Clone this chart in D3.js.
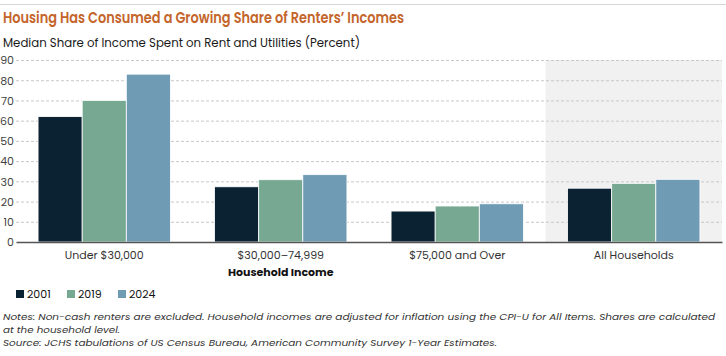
<!DOCTYPE html>
<html><head><meta charset="utf-8">
<script src="https://cdn.jsdelivr.net/npm/d3@7"></script>
<style>body{margin:0;background:#fff}svg{display:block}</style>
</head><body>
<svg id="c" width="726" height="356"></svg>
<script>
const categories = ["Under $30,000", "$30,000–74,999", "$75,000 and Over", "All Households"];
const seriesNames = ["2001", "2019", "2024"];
const values2001 = [62, 27.3, 15.3, 26.6];
const values2019 = [70, 30.8, 17.8, 29.0];
const values2024 = [83, 33.3, 18.9, 31.0];
const yTicks = [0, 10, 20, 30, 40, 50, 60, 70, 80, 90];
const colors = ["#0b2233", "#76a892", "#6f9bb5"];

const title = "Housing Has Consumed a Growing Share of Renters’ Incomes";
const subtitle = "Median Share of Income Spent on Rent and Utilities (Percent)";
const xTitle = "Household Income";
const notes = [
  "Notes: Non-cash renters are excluded. Household incomes are adjusted for inflation using the CPI-U for All Items. Shares are calculated",
  "at the household level.",
  "Source: JCHS tabulations of US Census Bureau, American Community Survey 1-Year Estimates."
];
const noteWidths = [712, 117, 494];

const series = [values2001, values2019, values2024];
const svg = d3.select("#c");
const font = "Poppins, 'Open Sans', Lato, sans-serif";

const x0 = d3.scaleBand().domain(categories).range([16, 722]).paddingInner(0).paddingOuter(0);
const x1 = d3.scaleBand().domain(seriesNames).range([0, x0.bandwidth()]).paddingInner(0).paddingOuter(0.5);
const y = d3.scaleLinear().domain([0, 90]).range([242, 60]);

// top rule
svg.append("line").attr("x1", 0).attr("x2", 726).attr("y1", 4.5).attr("y2", 4.5)
  .attr("stroke", "#d6d6d6").attr("stroke-width", 1);

// title
svg.append("text").attr("x", 3).attr("y", 23).text(title)
  .attr("font-family", font).attr("font-weight", 600).attr("font-size", 16)
  .attr("fill", "#c4652b").attr("textLength", 401).attr("lengthAdjust", "spacingAndGlyphs");
svg.append("text").attr("x", 3).attr("y", 47).text(subtitle)
  .attr("font-family", font).attr("font-size", 13).attr("fill", "#1a1a1a")
  .attr("textLength", 357).attr("lengthAdjust", "spacingAndGlyphs");

// highlight background for All Households
svg.append("rect").attr("x", x0("All Households")).attr("y", y(90))
  .attr("width", 722 - x0("All Households")).attr("height", y(0) - y(90)).attr("fill", "#f1f1f1");

// grid lines
svg.append("g").selectAll("line").data(yTicks.filter(d => d > 0)).join("line")
  .attr("x1", 16).attr("x2", 722).attr("y1", d => y(d) + 0.5).attr("y2", d => y(d) + 0.5)
  .attr("stroke", "#c8c8c8").attr("stroke-dasharray", "3,2").attr("stroke-width", 1);

// y axis labels
const yAxis = d3.axisLeft(y).tickValues(yTicks).tickSize(0).tickPadding(0);
const gy = svg.append("g").attr("transform", "translate(14,0)").call(yAxis);
gy.select(".domain").remove();
gy.selectAll("text").attr("font-family", font).attr("font-size", 11).attr("fill", "#444").attr("dy", "0.35em");

// bars
const groups = svg.append("g").selectAll("g").data(categories).join("g")
  .attr("transform", d => `translate(${x0(d)},0)`);
groups.selectAll("rect").data((c, i) => seriesNames.map((s, j) => ({s, j, v: series[j][i]}))).join("rect")
  .attr("x", d => x1(d.s)).attr("width", x1.bandwidth())
  .attr("y", d => y(d.v)).attr("height", d => y(0) - y(d.v))
  .attr("fill", d => colors[d.j]).attr("stroke", "#fff").attr("stroke-width", 0.8);

// baseline / x axis
const xAxis = d3.axisBottom(x0).tickSize(0).tickPadding(9);
const gx = svg.append("g").attr("transform", `translate(0,${y(0)})`).call(xAxis);
gx.select(".domain").attr("stroke", "#555").attr("stroke-width", 1.5);
gx.selectAll("text").attr("font-family", font).attr("font-size", 11).attr("fill", "#333");

// x title centered under first three groups
svg.append("text").attr("x", (x0(categories[0]) + x0(categories[2]) + x0.bandwidth()) / 2).attr("y", 276)
  .attr("text-anchor", "middle").text(xTitle)
  .attr("font-family", font).attr("font-weight", 700).attr("font-size", 11).attr("fill", "#111");

// legend
const lg = svg.append("g").selectAll("g").data(seriesNames).join("g")
  .attr("transform", (d, i) => `translate(${16 + i * 51},290)`);
lg.append("rect").attr("width", 8).attr("height", 8).attr("fill", (d, i) => colors[i]);
lg.append("text").attr("x", 11).attr("y", 8).text(d => d)
  .attr("font-family", font).attr("font-size", 11).attr("fill", "#111");

// notes
svg.append("g").selectAll("text").data(notes).join("text")
  .attr("x", 3).attr("y", (d, i) => 320 + i * 12.9).text(d => d)
  .attr("font-family", font).attr("font-style", "italic").attr("font-size", 9.2).attr("fill", "#333")
  .attr("textLength", (d, i) => noteWidths[i]).attr("lengthAdjust", "spacingAndGlyphs");
</script>
</body></html>
